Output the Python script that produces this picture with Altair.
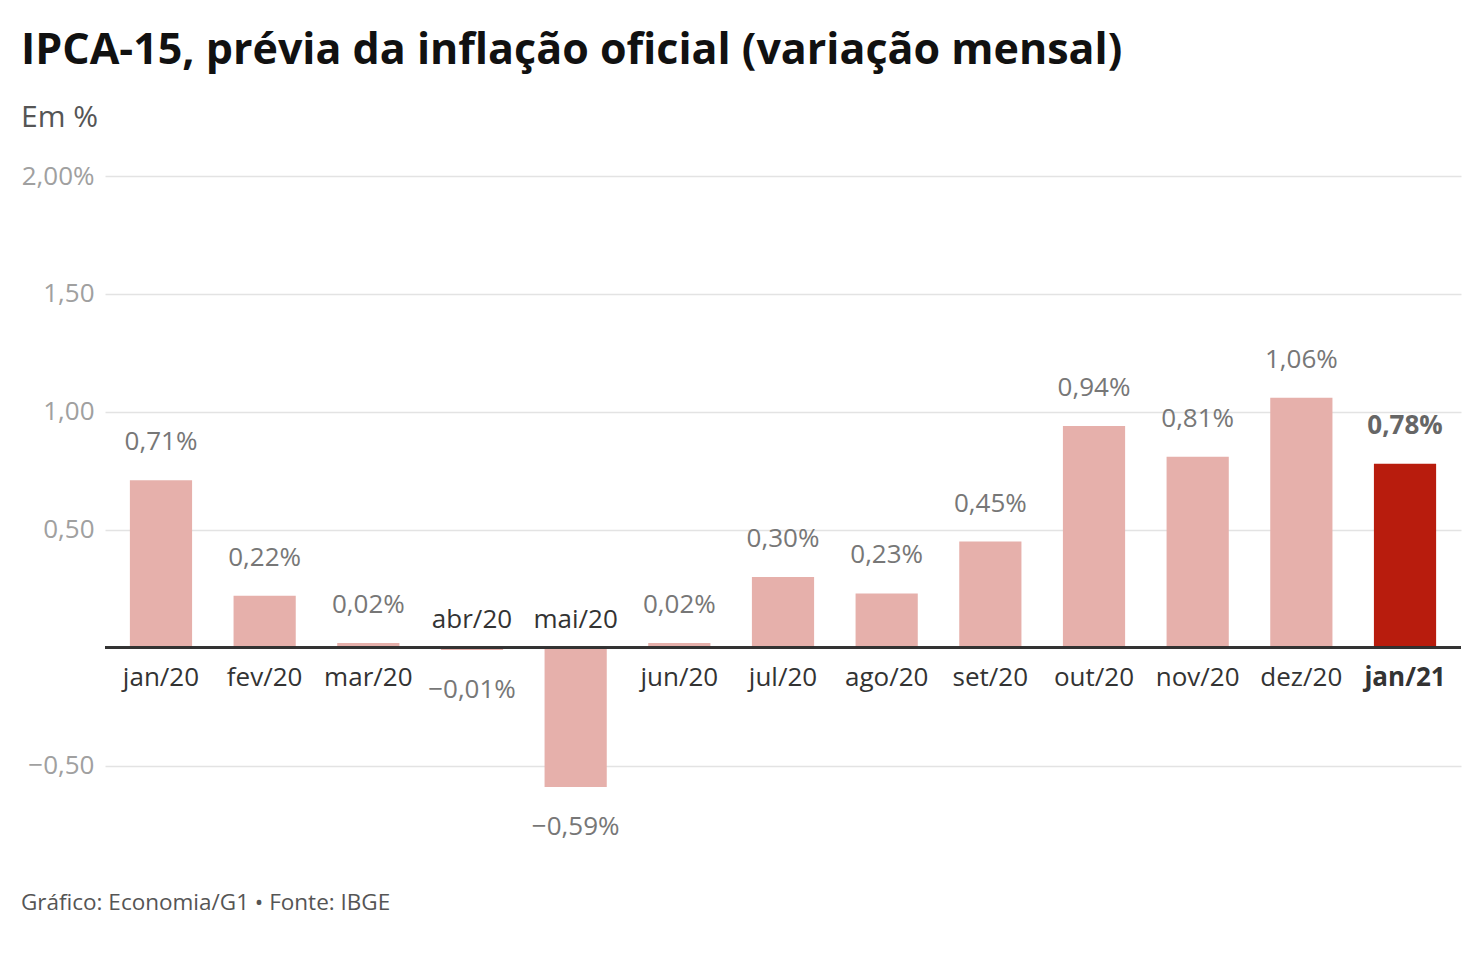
import altair as alt
import pandas as pd

meses = ["jan/20", "fev/20", "mar/20", "abr/20", "mai/20", "jun/20", "jul/20",
         "ago/20", "set/20", "out/20", "nov/20", "dez/20", "jan/21"]
valores = [0.71, 0.22, 0.02, -0.01, -0.59, 0.02, 0.30, 0.23, 0.45, 0.94, 0.81, 1.06, 0.78]
destaque = "jan/21"
eixo_y = [-0.5, 0.5, 1.0, 1.5, 2.0]

titulo = "IPCA-15, prévia da inflação oficial (variação mensal)"
subtitulo = "Em %"
rodape = "Gráfico: Economia/G1 • Fonte: IBGE"

LIGHT = "#e6b0ab"
DARK = "#b81c0d"
FONT = "Open Sans"

W, H = 1356, 684

df = pd.DataFrame({"mes": meses, "v": valores})

base = alt.Chart(df).transform_calculate(
    lbl="replace(format(datum.v, '.2f'), '.', ',') + '%'",
    z="0",
)

xenc = alt.X("mes:N", sort=meses, axis=None,
             scale=alt.Scale(paddingInner=0.4, paddingOuter=0.24))
yscale = alt.Scale(domain=[-0.9, 2.0], nice=False, zero=False)
yaxis = alt.Axis(values=eixo_y, domain=False, ticks=False, title=None,
                 labelExpr="datum.value == 2 ? '2,00%' : replace(format(datum.value, '.2f'), '.', ',')",
                 labelColor="#a0a0a0", labelFontSize=26, labelFont=FONT,
                 labelPadding=11, gridColor="#e3e3e3", gridWidth=1.5)


def Y(field):
    return alt.Y(field, scale=yscale, axis=yaxis, title=None)


bars = base.mark_bar().encode(
    x=xenc,
    y=Y("v:Q"),
    color=alt.when(alt.datum.mes == destaque).then(alt.value(DARK)).otherwise(alt.value(LIGHT)),
)

zero_line = base.mark_rule(color="#333333", strokeWidth=2).encode(y=Y("z:Q"))

not_last = alt.datum.mes != destaque

val_pos = base.transform_filter((alt.datum.v >= 0) & not_last).mark_text(
    dy=-38, baseline="middle", fontSize=26, font=FONT, color="#777777"
).encode(x=xenc, y=Y("v:Q"), text="lbl:N")

val_neg = base.transform_filter(alt.datum.v < 0).mark_text(
    dy=40, baseline="middle", fontSize=26, font=FONT, color="#777777"
).encode(x=xenc, y=Y("v:Q"), text="lbl:N")

val_last = base.transform_filter(alt.datum.mes == destaque).mark_text(
    dy=-38, baseline="middle", fontSize=26, font=FONT, color="#666666", fontWeight="bold"
).encode(x=xenc, y=Y("v:Q"), text="lbl:N")

cat_pos = base.transform_filter((alt.datum.v >= 0) & not_last).mark_text(
    dy=30, baseline="middle", fontSize=26, font=FONT, color="#333333"
).encode(x=xenc, y=Y("z:Q"), text="mes:N")

cat_neg = base.transform_filter(alt.datum.v < 0).mark_text(
    dy=-28, baseline="middle", fontSize=26, font=FONT, color="#333333"
).encode(x=xenc, y=Y("z:Q"), text="mes:N")

cat_last = base.transform_filter(alt.datum.mes == destaque).mark_text(
    dy=30, baseline="middle", fontSize=26, font=FONT, color="#333333", fontWeight="bold"
).encode(x=xenc, y=Y("z:Q"), text="mes:N")

foot = alt.Chart(pd.DataFrame({"t": [rodape]})).mark_text(
    align="left", baseline="middle", fontSize=22.5, font=FONT, color="#555555"
).encode(x=alt.value(-84), y=alt.value(727), text="t:N")

chart = alt.layer(
    bars, zero_line, val_pos, val_neg, val_last, cat_pos, cat_neg, cat_last, foot
).properties(
    width=W, height=H,
    title=alt.TitleParams(
        text=titulo, subtitle=subtitulo, anchor="start", frame="bounds",
        font=FONT, fontSize=43, fontWeight="bold", color="#111111",
        subtitleFont=FONT, subtitleFontSize=30, subtitleColor="#555555",
        subtitlePadding=30, offset=30,
    ),
    padding={"left": 13, "top": 22, "right": 10, "bottom": 10},
).configure_view(stroke=None)

chart.save("out.html", embed_options={"renderer": "svg", "actions": False})
